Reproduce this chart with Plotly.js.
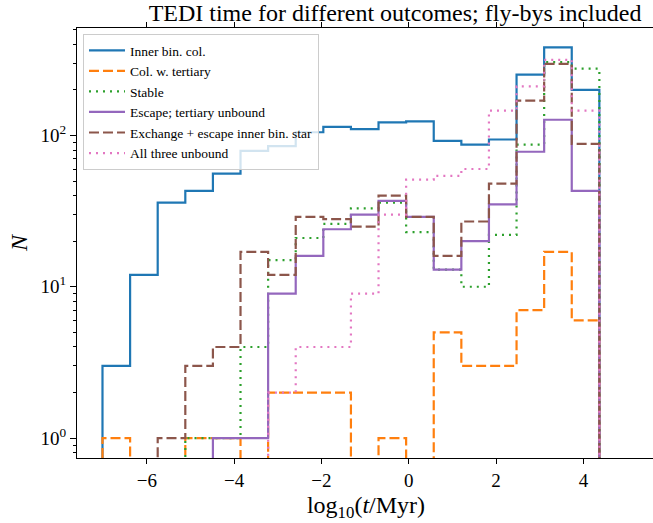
<!DOCTYPE html>
<html>
<head>
<meta charset="utf-8">
<script src="https://cdn.plot.ly/plotly-3.0.1.min.js"></script>
<style>
html, body { margin: 0; padding: 0; overflow: hidden; background: #fff; }
#chart { width: 656px; height: 523px; }
</style>
</head>
<body>
<div id="chart"></div>
<script>
// Histogram bins: 18 equal bins in log10(t/Myr)
const binStart = -7.016;
const binWidth = 0.6323;
const nBins = 18;

const seriesNames = [
  "Inner bin. col.",
  "Col. w. tertiary",
  "Stable",
  "Escape; tertiary unbound",
  "Exchange + escape inner bin. star",
  "All three unbound"
];

const innerBinCol   = [3, 12, 36, 43, 56, 79, 85, 105, 114, 110, 122, 124, 92, 87, 94, 252, 382, 200];
const colWTertiary  = [1, 0, 0, 1, 1, 0, 2, 2, 2, 0, 1, 0, 5, 3, 3, 7, 17, 6];
const stable        = [0, 0, 0, 1, 1, 4, 15, 21, 26, 33, 36, 23, 13, 10, 22, 87, 305, 276];
const escapeTert    = [0, 0, 0, 0, 1, 1, 9, 16, 24, 30, 37, 29, 13, 20, 35, 78, 127, 43];
const exchangeEsc   = [0, 0, 1, 3, 4, 17, 12, 29, 28, 25, 40, 29, 16, 27, 48, 170, 297, 88];
const allUnbound    = [0, 0, 0, 0, 0, 0, 2, 4, 4, 9, 30, 51, 54, 60, 146, 211, 316, 146];

const xTickVals = [-6, -4, -2, 0, 2, 4];
const yTickVals = [1, 10, 100];
const yTickText = ["10<sup>0</sup>", "10<sup>1</sup>", "10<sup>2</sup>"];

const counts = [innerBinCol, colWTertiary, stable, escapeTert, exchangeEsc, allUnbound];
const colors = ["#1f77b4", "#ff7f0e", "#2ca02c", "#9467bd", "#8c564b", "#e377c2"];
const dashes = ["solid", "10px,4px", "2px,5px", "solid", "10px,4px", "2px,5px"];

const edges = [];
for (let i = 0; i <= nBins; i++) edges.push(binStart + i * binWidth);

const FLOOR = 1e-3; // zero counts drop below the visible log range
function stepTrace(c, name, color, dash) {
  const x = [edges[0], edges[0]];
  const y = [FLOOR, c[0] > 0 ? c[0] : FLOOR];
  for (let i = 1; i < c.length; i++) {
    x.push(edges[i]);
    y.push(c[i] > 0 ? c[i] : FLOOR);
  }
  x.push(edges[c.length]);
  y.push(FLOOR);
  return {
    type: "scatter", mode: "lines", name: name, x: x, y: y,
    line: { shape: "hv", color: color, width: 2.2, dash: dash },
    hoverinfo: "skip"
  };
}

const traces = counts.map((c, k) => stepTrace(c, seriesNames[k], colors[k], dashes[k]));

const minorVals = [0.8, 0.9, 2, 3, 4, 5, 6, 7, 8, 9, 20, 30, 40, 50, 60, 70, 80, 90, 200, 300, 400, 500];

const serif = "Liberation Serif";

const layout = {
  width: 656, height: 523,
  margin: { l: 77, r: 1, t: 28, b: 65 },
  paper_bgcolor: "#ffffff", plot_bgcolor: "#ffffff",
  font: { family: serif, color: "#000" },
  title: {
    text: "TEDI time for different outcomes; fly-bys included",
    font: { family: serif, size: 24, color: "#000" },
    xref: "container", yref: "container",
    x: 395 / 656, xanchor: "center",
    y: 1 - 13 / 523, yanchor: "middle"
  },
  showlegend: true,
  legend: {
    x: (83 - 77) / 578, xanchor: "left",
    y: 1 - (34 - 28) / 430, yanchor: "top",
    bgcolor: "rgba(255,255,255,0.8)",
    bordercolor: "#cccccc", borderwidth: 1,
    font: { family: serif, size: 13.5, color: "#000" },
    itemwidth: 36, tracegroupgap: 0
  },
  xaxis: {
    range: [-7.60, 5.64],
    tickmode: "array", tickvals: xTickVals,
    ticks: "outside", ticklen: 5, tickwidth: 1, tickcolor: "#000",
    showline: true, linecolor: "#000", linewidth: 1, mirror: "ticks",
    showgrid: false, zeroline: false,
    tickfont: { family: serif, size: 19, color: "#000" },
    title: { text: "log<sub>10</sub>(<i>t</i>/Myr)", font: { family: serif, size: 24, color: "#000" }, standoff: 6 }
  },
  yaxis: {
    type: "log",
    range: [-0.1315, 2.710],
    tickmode: "array", tickvals: yTickVals, ticktext: yTickText,
    ticks: "outside", ticklen: 6, tickwidth: 1, tickcolor: "#000",
    showline: true, linecolor: "#000", linewidth: 1, mirror: "ticks",
    showgrid: false, zeroline: false,
    tickfont: { family: serif, size: 19, color: "#000" },
    minor: { tickmode: "array", tickvals: minorVals, ticks: "outside", ticklen: 3.5, tickwidth: 1, tickcolor: "#000", showgrid: false },
    title: { text: "<i>N</i>", font: { family: serif, size: 24, color: "#000" }, standoff: 6 }
  }
};

Plotly.newPlot("chart", traces, layout, { staticPlot: true, displayModeBar: false });
</script>
</body>
</html>
